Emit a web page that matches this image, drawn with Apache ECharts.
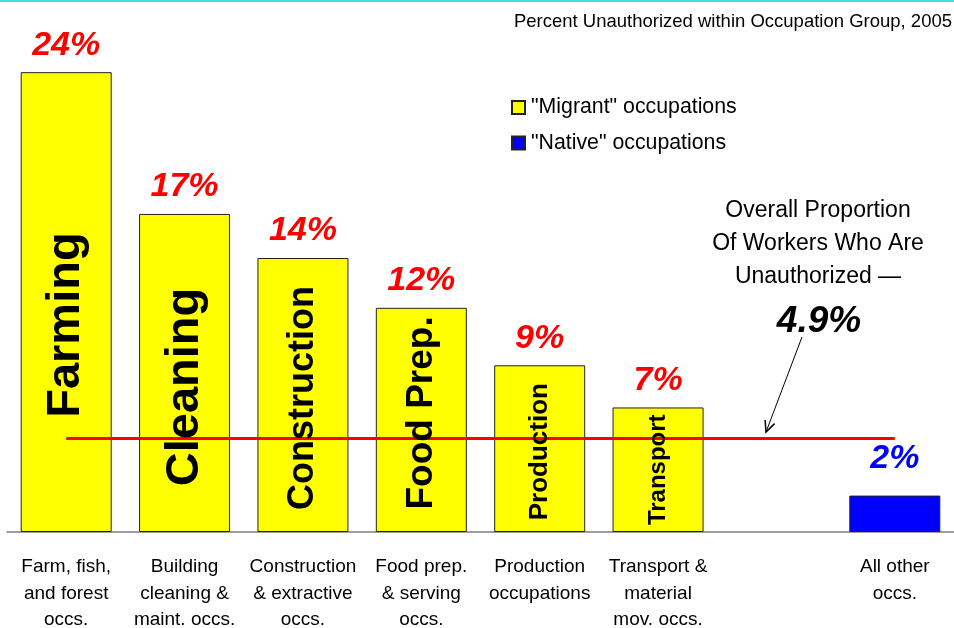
<!DOCTYPE html>
<html>
<head>
<meta charset="utf-8">
<script src="https://cdn.jsdelivr.net/npm/echarts@6/dist/echarts.min.js"></script>
<style>
  html, body { margin: 0; padding: 0; background: #fff; }
  #chart { width: 954px; height: 628px; }
</style>
</head>
<body>
<div id="chart"></div>
<script>
// categories on the x axis (7th slot is an empty gap)
const categories = [
  'Farm, fish,\nand forest\noccs.',
  'Building\ncleaning &\nmaint. occs.',
  'Construction\n& extractive\noccs.',
  'Food prep.\n& serving\noccs.',
  'Production\noccupations',
  'Transport &\nmaterial\nmov. occs.',
  '',
  'All other\noccs.'
];
// percent unauthorized
const migrantValues = [24, 16.6, 14.3, 11.7, 8.7, 6.5, '-', '-'];
const nativeValues = ['-', '-', '-', '-', '-', '-', '-', 1.9];
const migrantLabels = ['24%', '17%', '14%', '12%', '9%', '7%'];
const nativeLabel = '2%';
const shortNames = ['Farming', 'Cleaning', 'Construction', 'Food Prep.', 'Production', 'Transport'];
const overall = 4.9;

const font = 'Arial, "Liberation Sans", Helvetica, sans-serif';
// font size + shift (along the text) for the big rotated names inside the bars
const innerSizes = [47, 47, 36, 37, 26, 24];
const innerShift = [-23, -14, -3, 7, -3, 0];

const chart = echarts.init(document.getElementById('chart'));

// arrow from "4.9%" down to the red line
const ax0 = 802, ay0 = 337, ax1 = 766, ay1 = 432;
const len = Math.hypot(ax1 - ax0, ay1 - ay0);
const bx = (ax0 - ax1) / len, by = (ay0 - ay1) / len;
const ang = 25 * Math.PI / 180, barb = 12;
function rot(a) {
  return [ax1 + barb * (bx * Math.cos(a) - by * Math.sin(a)),
          ay1 + barb * (bx * Math.sin(a) + by * Math.cos(a))];
}

const option = {
  animation: false,
  textStyle: { fontFamily: font },
  title: {
    text: 'Percent Unauthorized within Occupation Group, 2005',
    right: 2, top: 12, padding: 0,
    textStyle: { fontSize: 18.5, fontWeight: 'normal', color: '#000', fontFamily: font }
  },
  legend: {
    data: ['"Migrant" occupations', '"Native" occupations'],
    orient: 'vertical',
    left: 506, top: 92,
    itemWidth: 13, itemHeight: 13, itemGap: 14.5,
    icon: 'rect',
    textStyle: { fontSize: 21.3, color: '#000', fontFamily: font, padding: [0, 0, 0, 1] }
  },
  grid: { left: 7, right: 0, top: 53, bottom: 96, outerBoundsMode: 'none', containLabel: false },
  xAxis: {
    type: 'category',
    data: categories,
    axisLine: { lineStyle: { color: '#7f7f7f', width: 1.5 } },
    axisTick: { show: false },
    axisLabel: { interval: 0, fontSize: 19, lineHeight: 26.5, margin: 22, color: '#000', fontFamily: font }
  },
  yAxis: { type: 'value', min: 0, max: 25, show: false, splitLine: { show: false } },
  series: [
    {
      name: '"Migrant" occupations',
      type: 'bar',
      data: migrantValues,
      barWidth: 91,
      barGap: '-100%',
      itemStyle: { color: '#ffff00', borderColor: '#222', borderWidth: 1 },
      label: {
        show: true, position: 'top', distance: 10,
        formatter: p => migrantLabels[p.dataIndex] || '',
        color: '#ff0000', fontSize: 34, fontWeight: 'bold', fontStyle: 'italic', fontFamily: font
      },
      markLine: {
        silent: true,
        symbol: 'none',
        label: { show: false },
        lineStyle: { color: '#ff0000', width: 3, type: 'solid' },
        data: [[{ coord: [0, overall] }, { coord: [7, overall] }]]
      },
      z: 2
    },
    {
      name: '"Native" occupations',
      type: 'bar',
      data: nativeValues,
      barWidth: 91,
      itemStyle: { color: '#0000ff', borderColor: '#222', borderWidth: 1 },
      label: {
        show: true, position: 'top', distance: 20,
        formatter: () => nativeLabel,
        color: '#0000ff', fontSize: 34, fontWeight: 'bold', fontStyle: 'italic', fontFamily: font
      },
      z: 2
    },
    {
      name: 'names',
      type: 'bar',
      data: migrantValues.map((v, i) => ({
        value: v,
        label: { fontSize: innerSizes[i] || 20, offset: [innerShift[i] || 0, 0] }
      })),
      barWidth: 91,
      itemStyle: { color: 'rgba(0,0,0,0)' },
      label: {
        show: true, position: 'inside', rotate: 90,
        formatter: p => shortNames[p.dataIndex] || '',
        color: '#000', fontWeight: 'bold', fontFamily: font
      },
      silent: true,
      z: 5
    }
  ],
  graphic: [
    { type: 'rect', shape: { x: 0, y: 0, width: 954, height: 2 }, style: { fill: '#40e0e0' } },
    {
      type: 'text', x: 818, y: 194,
      style: {
        text: 'Overall Proportion\nOf Workers Who Are\nUnauthorized —',
        font: '23px ' + font, lineHeight: 33, fill: '#000', align: 'center', verticalAlign: 'top'
      }
    },
    {
      type: 'text', x: 819, y: 322,
      style: {
        text: '4.9%', font: 'italic bold 37px ' + font, fill: '#000',
        align: 'center', verticalAlign: 'middle'
      }
    },
    { type: 'line', shape: { x1: ax0, y1: ay0, x2: ax1, y2: ay1 }, style: { stroke: '#000', lineWidth: 1 } },
    { type: 'polyline', shape: { points: [rot(ang), [ax1, ay1], rot(-ang)] }, style: { stroke: '#000', lineWidth: 1.5, fill: null } }
  ]
};

chart.setOption(option);
</script>
</body>
</html>
